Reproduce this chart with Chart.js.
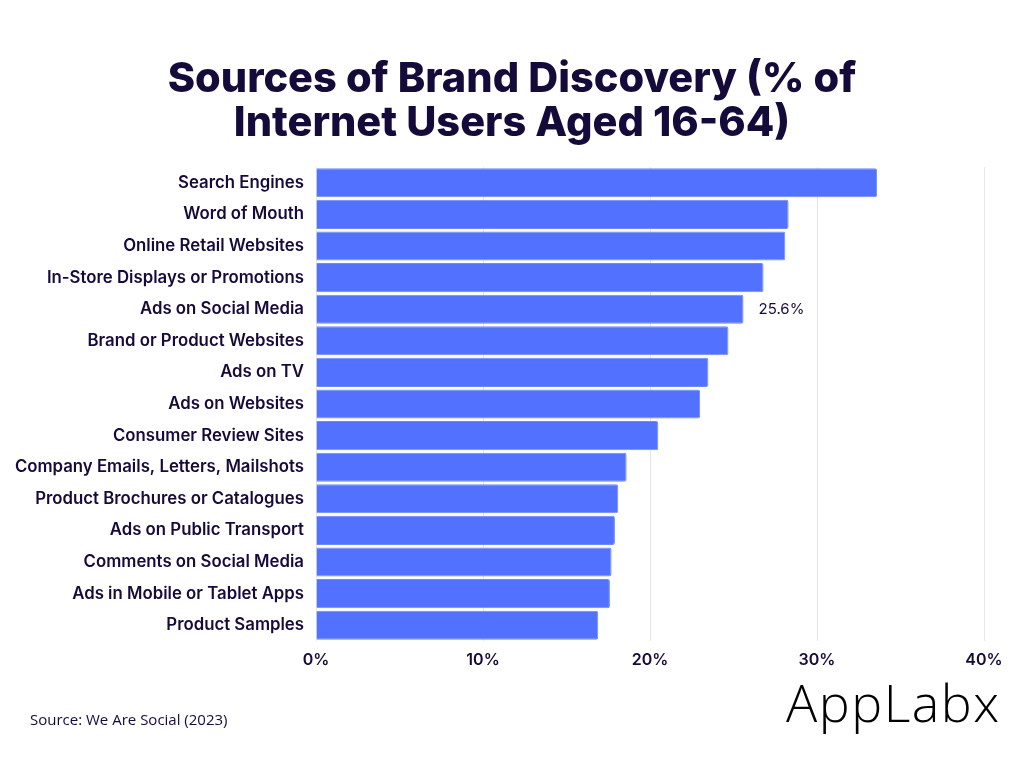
<!DOCTYPE html>
<html>
<head>
<meta charset="utf-8">
<script src="https://cdn.jsdelivr.net/npm/chart.js@4.4.0/dist/chart.umd.min.js"></script>
<style>
  html, body { margin: 0; padding: 0; background: #ffffff; }
  #wrap { position: relative; width: 1024px; height: 768px; overflow: hidden; }
  #c { position: absolute; left: 0; top: 0; }
  #title { position: absolute; left: 0; top: 55px; width: 1024px; text-align: center;
    font-family: Inter, "Noto Sans", sans-serif; font-weight: 800; font-size: 41.5px; line-height: 44px;
    color: #150b3a; letter-spacing: 0px; }
  #source { position: absolute; left: 30px; top: 709px; font-family: "Open Sans", "Noto Sans", sans-serif;
    font-size: 15px; color: #150b3a; }
  #logo { position: absolute; left: 786px; top: 666px; font-family: "Open Sans", sans-serif; font-weight: 300;
    font-size: 52px; color: #000; letter-spacing: 1.5px; }
</style>
</head>
<body>
<div id="wrap">
  <canvas id="c" width="1024" height="768"></canvas>
  <div id="title">Sources of Brand Discovery (% of<br>Internet Users Aged 16-64)</div>
  <div id="source">Source: We Are Social (2023)</div>
  <div id="logo">AppLabx</div>
</div>
<script>
const categories = [
  "Search Engines",
  "Word of Mouth",
  "Online Retail Websites",
  "In-Store Displays or Promotions",
  "Ads on Social Media",
  "Brand or Product Websites",
  "Ads on TV",
  "Ads on Websites",
  "Consumer Review Sites",
  "Company Emails, Letters, Mailshots",
  "Product Brochures or Catalogues",
  "Ads on Public Transport",
  "Comments on Social Media",
  "Ads in Mobile or Tablet Apps",
  "Product Samples"
];
const values = [33.6, 28.3, 28.1, 26.8, 25.6, 24.7, 23.5, 23.0, 20.5, 18.6, 18.1, 17.9, 17.7, 17.6, 16.9];
const xTicks = [0, 10, 20, 30, 40];
const labelledIndex = 4;

const barLabel = {
  id: 'barLabel',
  afterDatasetsDraw(chart) {
    const meta = chart.getDatasetMeta(0);
    const el = meta.data[labelledIndex];
    const ctx = chart.ctx;
    ctx.save();
    ctx.font = '400 15px Inter, "Noto Sans", sans-serif';
    ctx.fillStyle = '#150b3a';
    ctx.textAlign = 'left';
    ctx.textBaseline = 'middle';
    ctx.fillText(values[labelledIndex].toFixed(1) + '%', el.x + 15, el.y);
    ctx.restore();
  }
};

new Chart(document.getElementById('c'), {
  type: 'bar',
  data: {
    labels: categories,
    datasets: [{
      data: values,
      backgroundColor: '#5271ff',
      borderColor: '#6f88ff',
      borderWidth: 1,
      borderRadius: 2,
      borderSkipped: 'start',
      barPercentage: 0.92,
      categoryPercentage: 1.0
    }]
  },
  options: {
    indexAxis: 'y',
    responsive: false,
    animation: false,
    layout: { padding: { left: 0, right: 40, top: 167, bottom: 92 } },
    plugins: { legend: { display: false }, tooltip: { enabled: false }, title: { display: false } },
    scales: {
      x: {
        min: 0, max: 40,
        afterBuildTicks(scale) { scale.ticks = xTicks.map(v => ({ value: v })); },
        afterFit(scale) { scale.height = 35; },
        grid: { color: '#e6e6e6', drawTicks: false, lineWidth: 1 },
        border: { display: false },
        ticks: {
          padding: 10,
          color: '#150b3a',
          font: { family: 'Inter, "Noto Sans", sans-serif', weight: '600', size: 16 },
          callback: v => v + '%'
        }
      },
      y: {
        afterFit(scale) { scale.width = 316; },
        grid: { display: false },
        border: { display: false },
        ticks: {
          padding: 4,
          color: '#150b3a',
          font: { family: 'Inter, "Noto Sans", sans-serif', weight: '600', size: 16.8 }
        }
      }
    }
  },
  plugins: [barLabel]
});
</script>
</body>
</html>
